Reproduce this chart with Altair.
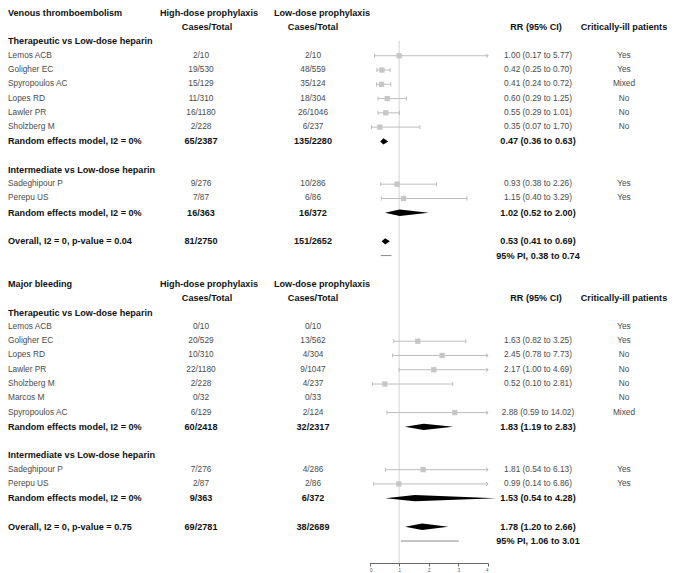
import altair as alt
import pandas as pd

# ---------------- data ----------------
# Venous thromboembolism
vte_ther_study = ["Lemos ACB", "Goligher EC", "Spyropoulos AC", "Lopes RD", "Lawler PR", "Sholzberg M"]
vte_ther_high = ["2/10", "19/530", "15/129", "11/310", "16/1180", "2/228"]
vte_ther_low = ["2/10", "48/559", "35/124", "18/304", "26/1046", "6/237"]
vte_ther_rr = [1.00, 0.42, 0.41, 0.60, 0.55, 0.35]
vte_ther_lo = [0.17, 0.25, 0.24, 0.29, 0.29, 0.07]
vte_ther_hi = [5.77, 0.70, 0.72, 1.25, 1.01, 1.70]
vte_ther_crit = ["Yes", "Yes", "Mixed", "No", "No", "No"]
vte_ther_pool = ["65/2387", "135/2280", 0.47, 0.36, 0.63]

vte_int_study = ["Sadeghipour P", "Perepu US"]
vte_int_high = ["9/276", "7/87"]
vte_int_low = ["10/286", "6/86"]
vte_int_rr = [0.93, 1.15]
vte_int_lo = [0.38, 0.40]
vte_int_hi = [2.26, 3.29]
vte_int_crit = ["Yes", "Yes"]
vte_int_pool = ["16/363", "16/372", 1.02, 0.52, 2.00]

vte_overall = ["Overall, I2 = 0, p-value = 0.04", "81/2750", "151/2652", 0.53, 0.41, 0.69]
vte_pi = [0.38, 0.74]

# Major bleeding
bl_ther_study = ["Lemos ACB", "Goligher EC", "Lopes RD", "Lawler PR", "Sholzberg M", "Marcos M", "Spyropoulos AC"]
bl_ther_high = ["0/10", "20/529", "10/310", "22/1180", "2/228", "0/32", "6/129"]
bl_ther_low = ["0/10", "13/562", "4/304", "9/1047", "4/237", "0/33", "2/124"]
bl_ther_rr = [None, 1.63, 2.45, 2.17, 0.52, None, 2.88]
bl_ther_lo = [None, 0.82, 0.78, 1.00, 0.10, None, 0.59]
bl_ther_hi = [None, 3.25, 7.73, 4.69, 2.81, None, 14.02]
bl_ther_crit = ["Yes", "Yes", "No", "No", "No", "No", "Mixed"]
bl_ther_pool = ["60/2418", "32/2317", 1.83, 1.19, 2.83]

bl_int_study = ["Sadeghipour P", "Perepu US"]
bl_int_high = ["7/276", "2/87"]
bl_int_low = ["4/286", "2/86"]
bl_int_rr = [1.81, 0.99]
bl_int_lo = [0.54, 0.14]
bl_int_hi = [6.13, 6.86]
bl_int_crit = ["Yes", "Yes"]
bl_int_pool = ["9/363", "6/372", 1.53, 0.54, 4.28]

bl_overall = ["Overall, I2 = 0, p-value = 0.75", "69/2781", "38/2689", 1.78, 1.20, 2.66]
bl_pi = [1.06, 3.01]

axis_ticks = [0, 1, 2, 3, 4]
null_value = 1
x_max = 4

# ---------------- layout tables ----------------
texts, cis, dias, pis = [], [], [], []


def add_text(row, col, text, bold=False):
    texts.append(dict(row=row, col=col, text=text, bold=bold))


def fmt(e, l, h):
    return f"{e:.2f} ({l:.2f} to {h:.2f})"


def section(start, title, groups, overall, pi):
    r = start
    add_text(r, "label", title, True)
    add_text(r, "hdr_high", "High-dose prophylaxis", True)
    add_text(r, "hdr_low", "Low-dose prophylaxis", True)
    r += 1
    add_text(r, "cases_high", "Cases/Total", True)
    add_text(r, "cases_low", "Cases/Total", True)
    add_text(r, "hdr_rr", "RR (95% CI)", True)
    add_text(r, "crit", "Critically-ill patients", True)
    r += 1
    for gname, study, high, low, rr, lo, hi, crit, pool in groups:
        add_text(r, "label", gname, True)
        r += 1
        for i in range(len(study)):
            add_text(r, "label", study[i])
            add_text(r, "high", high[i])
            add_text(r, "low", low[i])
            add_text(r, "crit", crit[i])
            if rr[i] is not None:
                add_text(r, "rr", fmt(rr[i], lo[i], hi[i]))
                cis.append(dict(row=r, est=rr[i], lo=lo[i], hi=hi[i]))
            r += 1
        add_text(r, "label", "Random effects model, I2 = 0%", True)
        add_text(r, "high", pool[0], True)
        add_text(r, "low", pool[1], True)
        add_text(r, "rr", fmt(pool[2], pool[3], pool[4]), True)
        dias.append(dict(row=r, est=pool[2], lo=pool[3], hi=pool[4]))
        r += 2
    add_text(r, "label", overall[0], True)
    add_text(r, "high", overall[1], True)
    add_text(r, "low", overall[2], True)
    add_text(r, "rr", fmt(overall[3], overall[4], overall[5]), True)
    dias.append(dict(row=r, est=overall[3], lo=overall[4], hi=overall[5]))
    r += 1
    add_text(r, "rr", f"95% PI, {pi[0]:.2f} to {pi[1]:.2f}", True)
    pis.append(dict(row=r, lo=pi[0], hi=pi[1]))
    return r


end1 = section(0, "Venous thromboembolism", [
    ("Therapeutic vs Low-dose heparin", vte_ther_study, vte_ther_high, vte_ther_low,
     vte_ther_rr, vte_ther_lo, vte_ther_hi, vte_ther_crit, vte_ther_pool),
    ("Intermediate vs Low-dose heparin", vte_int_study, vte_int_high, vte_int_low,
     vte_int_rr, vte_int_lo, vte_int_hi, vte_int_crit, vte_int_pool),
], vte_overall, vte_pi)
end2 = section(end1 + 2, "Major bleeding", [
    ("Therapeutic vs Low-dose heparin", bl_ther_study, bl_ther_high, bl_ther_low,
     bl_ther_rr, bl_ther_lo, bl_ther_hi, bl_ther_crit, bl_ther_pool),
    ("Intermediate vs Low-dose heparin", bl_int_study, bl_int_high, bl_int_low,
     bl_int_rr, bl_int_lo, bl_int_hi, bl_int_crit, bl_int_pool),
], bl_overall, bl_pi)

text_df = pd.DataFrame(texts)
ci_df = pd.DataFrame(cis)
pi_df = pd.DataFrame(pis)

DIA_H = 0.22
dia_pts = []
for k, d in enumerate(dias):
    dia_pts.append(dict(id=k, x=d["lo"], y=d["row"], y2=d["row"]))
    dia_pts.append(dict(id=k, x=d["est"], y=d["row"] - DIA_H, y2=d["row"] + DIA_H))
    dia_pts.append(dict(id=k, x=d["hi"], y=d["row"], y2=d["row"]))
dia_df = pd.DataFrame(dia_pts)

caps = []
for c in cis:
    caps.append(dict(row=c["row"], x=c["lo"]))
    if c["hi"] <= x_max:
        caps.append(dict(row=c["row"], x=c["hi"]))
cap_df = pd.DataFrame(caps)
arrow_df = ci_df[ci_df["hi"] > x_max].assign(x=x_max)

Y_TOP = -0.345
Y_BOT = 38.54
ref_df = pd.DataFrame([dict(x=null_value, y=1.95, y2=Y_BOT)])

# ---------------- scales ----------------
FONT = "Liberation Sans"
xscale = alt.Scale(domain=[0, 4], range=[361.5, 480], nice=False, zero=False)
xaxis = alt.Axis(values=axis_ticks, grid=False, title=None, domainColor="#666", tickColor="#666",
                 tickSize=3, labelFontSize=4.5, labelColor="#555", labelFont=FONT, labelPadding=1,
                 format="d")
yscale = alt.Scale(domain=[Y_TOP, Y_BOT], reverse=True, nice=False, zero=False)


def X(f):
    return alt.X(f, type="quantitative", scale=xscale, axis=xaxis)


def Y(f):
    return alt.Y(f, type="quantitative", scale=yscale, axis=None)


ref = alt.Chart(ref_df).mark_rule(color="#d4d4d4", strokeWidth=1).encode(
    x=X("x"), y=Y("y"), y2="y2")

ci_line = alt.Chart(ci_df).transform_calculate(hic="min(datum.hi, 4)").mark_rule(
    color="#bdbdbd", strokeWidth=1).encode(x=X("lo"), x2="hic:Q", y=Y("row"))

cap = alt.Chart(cap_df).transform_calculate(
    ya="datum.row - 0.14", yb="datum.row + 0.14").mark_rule(
    color="#bdbdbd", strokeWidth=1).encode(x=X("x"), y=Y("ya"), y2="yb:Q")

arrow = alt.Chart(arrow_df).mark_point(
    shape="M-1,-1L0,0L-1,1", filled=False, size=14, color="#b0b0b0", strokeWidth=1, opacity=1
).encode(x=X("x"), y=Y("row"))

sq = alt.Chart(ci_df).mark_square(size=28, color="#c6c6c6", opacity=1).encode(
    x=X("est"), y=Y("row"))

dia = alt.Chart(dia_df).mark_area(color="black", orient="vertical", opacity=1).encode(
    x=X("x"), y=Y("y"), y2="y2:Q", detail="id:N")

pi_line = alt.Chart(pi_df).mark_rule(color="#8a8a8a", strokeWidth=1).encode(
    x=X("lo"), x2="hi:Q", y=Y("row"))

# text columns: x position (plot px) and alignment
cols = {
    "label": (0, "left"),
    "hdr_high": (201, "center"),
    "hdr_low": (314, "center"),
    "cases_high": (199, "center"),
    "cases_low": (305, "center"),
    "high": (193, "center"),
    "low": (305, "center"),
    "hdr_rr": (528, "center"),
    "rr": (530, "center"),
    "crit": (616, "center"),
}

text_layers = []
for col, (xp, al) in cols.items():
    for bold in (False, True):
        sub = text_df[(text_df["col"] == col) & (text_df["bold"] == bold)]
        if len(sub) == 0:
            continue
        text_layers.append(
            alt.Chart(sub).mark_text(
                align=al, baseline="middle", font=FONT,
                fontSize=9.1 if bold else 8.3,
                fontWeight="bold" if bold else "normal",
                color="#111111" if bold else "#4a4a4a",
            ).encode(x=alt.value(xp), y=Y("row"), text="text:N")
        )

chart = alt.layer(ref, ci_line, cap, arrow, sq, pi_line, dia, *text_layers).properties(
    width=660, height=555,
    padding={"left": 0, "right": 0, "top": 0, "bottom": 9},
    autosize=alt.AutoSizeParams(type="none"),
).configure_view(stroke=None)

chart.save("out.html", embed_options={"renderer": "svg", "actions": False})
